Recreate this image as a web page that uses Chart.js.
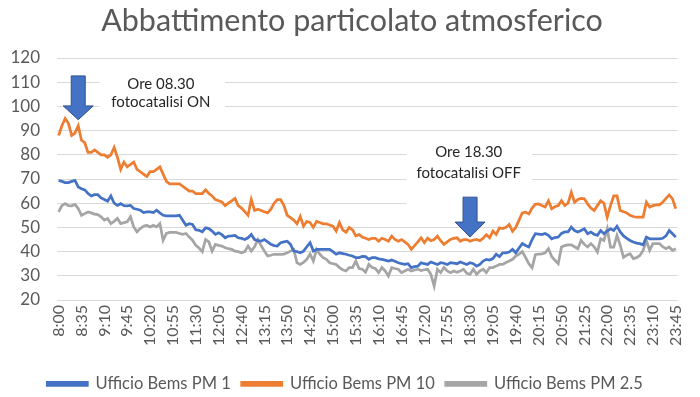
<!DOCTYPE html>
<html>
<head>
<meta charset="utf-8">
<script src="https://cdn.jsdelivr.net/npm/chart.js@4/dist/chart.umd.min.js"></script>
<style>
  html, body { margin: 0; padding: 0; background: #ffffff; }
  #wrap { width: 700px; height: 397px; }
</style>
</head>
<body>
<div id="wrap"><canvas id="c" width="700" height="397"></canvas></div>
<script>
// ---- DATA ----
const title = "Abbattimento particolato atmosferico";

// 5-minute samples from 8:00 to 23:45
const categories = [];
for (let m = 8 * 60; m <= 23 * 60 + 45; m += 5) {
  categories.push(Math.floor(m / 60) + ":" + String(m % 60).padStart(2, "0"));
}
const tickEvery = 7; // a label every 35 minutes

const seriesNames = ["Ufficio Bems PM 1", "Ufficio Bems PM 10", "Ufficio Bems PM 2.5"];

const pm1 = [
  69.4,69,68.5,68.5,69,69.4,66.7,66,65.5,64,
  63,63.5,63.5,62.2,61.5,60.8,63,60,59.1,59.8,
  59,58.9,59.1,57.8,57.5,57.1,56.1,56.4,56.4,56.1,
  57.1,56,55,54.8,54.8,54.8,54.8,55,53,50.9,
  51.5,51.2,49,48.8,48.2,49.8,49.5,48.5,47.1,47.8,
  47,45.7,46.4,46.5,46.7,45.7,45.5,45,45.7,47.1,
  45,44.5,44.3,45,44,43,42.5,42.3,43.7,44,
  44.3,43,40.2,40,39.5,40.2,42,43.7,40.2,40.9,
  40.9,40.9,40.9,40.9,40,38.9,39.5,39.2,38.9,38.5,
  38.2,37.5,37.5,38,37.9,36.8,37.5,37.5,37,36.8,
  36.5,36.1,36.5,36,35.4,35,34.7,35,33.4,33.8,
  34,35.4,35,34.7,35.7,35.2,34.7,35.4,35.2,34.7,
  35.4,35.2,35,35.7,35.2,34.7,35.4,35,34,34.7,
  36.1,36.8,36.5,37.1,38.9,37.9,39.5,39.5,39.8,40.9,
  39.5,41.5,43.3,42.5,41.9,45,47.4,47.2,47,47.5,
  46.7,45.3,45.8,46,47.5,48.1,48.1,50.1,48.7,48.1,
  48.7,49.4,47.4,48.1,47.2,46.7,48.7,47.4,48.5,49.4,
  48.7,50.5,48.1,46.5,45.5,44.6,44,43.5,43.3,42.8,
  46,45.3,45.3,45.3,45.3,45.5,46.5,48.7,47.4,46
];

const pm10 = [
  88,92,95,93,88,89,92,86,85,81,
  81,82,81,80,80,79,80,83,79,74,
  77,75,76,77,74,73,72,71,73,73,
  74,75,72,69,68,68,68,68,67,66,
  65,65,64,64,64,65.5,64,63,61.5,61,
  60.5,59,60,61,62,59,58,56.5,55,61.5,
  57,57.5,57,56.5,56,57.5,60,61.5,61.5,59,
  55,54,53,51.5,54.5,50.5,52.5,52,50,52.5,
  52,51.5,51.5,51,50.5,48.5,52,49,48,50,
  49,46.5,47,46,45.5,45,45.5,45.5,44.3,45.5,
  45,44.3,46.4,45,44.3,45,44,43,41,42.5,
  44,45.7,43.7,45.5,44.5,45,46.4,44.5,43,44,
  45,45.5,45.7,44.3,45,45,44.3,44.8,45,44.5,
  45.5,47,45.7,48.5,47.1,49.8,49.5,50,51.2,48.4,
  50,53,56,56.3,55.6,58,59.5,59.7,59,58.4,
  61,57.7,58.5,59,61,59,60,64.5,60.4,61.5,
  62,61.8,59.7,58,57,59,61,60,54.2,59,
  63,63,57,56.5,56,55,54.5,54.2,54.2,54.2,
  60.4,58.4,59,59.3,59.3,60.4,62,63.4,61.8,57.7
];

const pm25 = [
  56.4,59,59.8,59,58.9,59.5,57.8,55,55.7,56.4,
  56,55.5,55.3,54.4,53,53.7,51.6,52.5,53.7,51.6,
  52,52.3,54.4,50.2,48.2,49.5,50.5,50.9,50.2,50.9,
  50.2,51.6,44.7,47.5,47.9,47.9,47.9,47.5,47.1,47.5,
  46,44.7,42.6,41.5,40,45,44,40.2,43,42.6,
  42.3,41.6,41.2,40.9,40.2,40,39.5,40,42.3,40.2,
  42,45,42.5,40.2,38.2,38.5,38.9,38.9,38.9,39,
  39.5,40.2,40.9,35.4,34.7,35.5,36.8,39,36.1,40.9,
  38.9,37.5,36.8,35.4,35,34.7,33.4,32.5,32,33.4,
  33.4,36.1,33,32.7,31.5,34.7,33.4,33,31.3,33.4,
  32,29.9,33.4,33,32.7,31.3,32,32.7,32,32.4,
  32.7,32.2,32.5,32.7,30.6,25.8,32.7,31.3,33.4,32,
  31.3,32,31.5,32,32.7,31,30.6,32.7,30.6,32,
  32.7,31.3,33.4,33.4,34,34.7,34.7,35.5,36.1,36.8,
  38.2,39,40,37.6,35,33.3,38.7,39,39.1,39.5,
  41.2,38,36.4,35,41.9,42.5,42.8,42.8,42,41.2,
  44.6,43,41.9,43.3,42,39.8,45.3,44.6,49.4,41.9,
  41.9,46.7,42.6,37.6,38.5,39.1,37.1,37.5,38.4,40.5,
  44.6,40.5,43.3,43.3,43.3,42,41.2,41.9,40.5,41.2
];

const yMin = 20, yMax = 120, yStep = 10;

// Annotations (positions in data terms: category index & y value)
const notes = [
  { lines: ["Ore 08.30", "fotocatalisi ON"], textIdx: 31.3, textY: [109.3, 101.7],
    boxIdx: [12.5, 51], boxY: [116.7, 94],
    arrowIdx: 6, arrowTop: 112.6, arrowHead: 100.2, arrowTip: 94.5 },
  { lines: ["Ore 18.30", "fotocatalisi OFF"], textIdx: 125.6, textY: [80.9, 72.5],
    boxIdx: [106.5, 145], boxY: [85.8, 57],
    arrowIdx: 126, arrowTop: 62.5, arrowHead: 52.2, arrowTip: 46 }
];

const colors = ["#4472C4", "#ED7D31", "#A5A5A5"];
const FONT = "Lato, 'DejaVu Sans', sans-serif";
const GRAY = "#595959";
const PAD_BOTTOM = -5;

const titlePlugin = {
  id: "titleDraw",
  afterDraw(chart) {
    const ctx = chart.ctx;
    ctx.save();
    ctx.font = "30.5px " + FONT;
    ctx.fillStyle = GRAY;
    ctx.textAlign = "center";
    ctx.textBaseline = "alphabetic";
    ctx.fillText(title, 352, 31);
    ctx.restore();
  }
};

const notePlugin = {
  id: "notes",
  beforeDatasetsDraw(chart) {
    const ctx = chart.ctx, xs = chart.scales.x, ys = chart.scales.y;
    ctx.save();
    notes.forEach(n => {
      const x0 = xs.getPixelForValue(n.boxIdx[0]), x1 = xs.getPixelForValue(n.boxIdx[1]);
      const y0 = ys.getPixelForValue(n.boxY[0]), y1 = ys.getPixelForValue(n.boxY[1]);
      ctx.fillStyle = "#ffffff";
      ctx.fillRect(x0, y0, x1 - x0, y1 - y0);
      ctx.fillStyle = "#262626";
      ctx.font = "15px " + FONT;
      ctx.textAlign = "center";
      ctx.textBaseline = "middle";
      const tx = xs.getPixelForValue(n.textIdx);
      n.lines.forEach((t, k) => ctx.fillText(t, tx, ys.getPixelForValue(n.textY[k])));
    });
    ctx.restore();
  },
  afterDatasetsDraw(chart) {
    const ctx = chart.ctx, xs = chart.scales.x, ys = chart.scales.y;
    ctx.save();
    notes.forEach(n => {
      const cx = xs.getPixelForValue(n.arrowIdx);
      const top = ys.getPixelForValue(n.arrowTop);
      const head = ys.getPixelForValue(n.arrowHead);
      const tip = ys.getPixelForValue(n.arrowTip);
      const bw = 7, hw = 15;
      ctx.beginPath();
      ctx.moveTo(cx - bw, top);
      ctx.lineTo(cx + bw, top);
      ctx.lineTo(cx + bw, head);
      ctx.lineTo(cx + hw, head);
      ctx.lineTo(cx, tip);
      ctx.lineTo(cx - hw, head);
      ctx.lineTo(cx - bw, head);
      ctx.closePath();
      ctx.fillStyle = "#4472C4";
      ctx.fill();
      ctx.strokeStyle = "#2F528F";
      ctx.lineWidth = 1;
      ctx.stroke();
    });
    ctx.restore();
  }
};

const mk = (label, data, color) => ({
  label, data,
  borderColor: color, backgroundColor: color,
  borderWidth: 2.75, pointRadius: 0, tension: 0, fill: false
});

new Chart(document.getElementById("c"), {
  type: "line",
  data: {
    labels: categories,
    datasets: [
      mk(seriesNames[0], pm1, colors[0]),
      mk(seriesNames[1], pm10, colors[1]),
      mk(seriesNames[2], pm25, colors[2])
    ]
  },
  options: {
    responsive: false,
    animation: false,
    devicePixelRatio: 1,
    layout: { padding: { top: 58, right: 10, left: 0, bottom: PAD_BOTTOM } },
    plugins: {
      tooltip: { enabled: false },
      title: { display: false },
      legend: {
        position: "bottom",
        labels: {
          boxWidth: 40, boxHeight: 3, padding: 11,
          color: GRAY, font: { family: FONT, size: 16.5 }
        }
      }
    },
    scales: {
      x: {
        type: "category",
        offset: true,
        grid: { display: false, drawTicks: false },
        border: { display: false },
        ticks: {
          autoSkip: false, maxRotation: 90, minRotation: 90, padding: 5,
          color: GRAY, font: { family: FONT, size: 16 },
          callback: function (v, i) { return i % tickEvery === 0 ? categories[i] : null; }
        },
        afterFit(scale) {
          const lg = scale.chart.legend ? scale.chart.legend.height : 40;
          scale.height = 397 - PAD_BOTTOM - 300 - lg;
        }
      },
      y: {
        min: yMin, max: yMax,
        grid: { color: "#D9D9D9", lineWidth: 1, drawTicks: false },
        border: { display: false },
        ticks: {
          stepSize: yStep, padding: 17,
          color: GRAY, font: { family: FONT, size: 17 }
        },
        afterFit(scale) { scale.width = 57; }
      }
    }
  },
  plugins: [titlePlugin, notePlugin]
});
</script>
</body>
</html>
